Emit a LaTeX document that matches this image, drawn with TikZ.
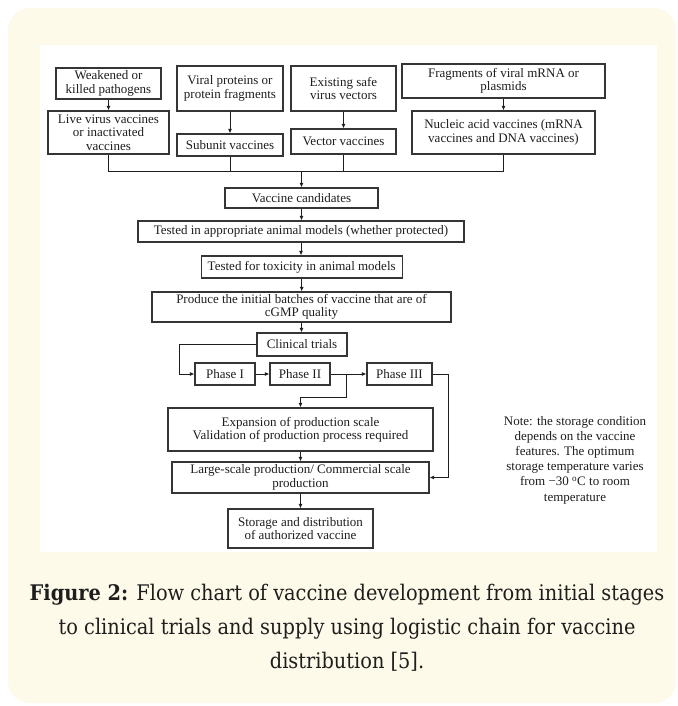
\documentclass[tikz,border=0pt]{standalone}
\usepackage{fontspec}
\setmainfont{Liberation Serif}
\newfontfamily\capfont{DejaVu Serif Condensed}
\usetikzlibrary{arrows.meta}
\definecolor{cream}{RGB}{254,250,233}
\definecolor{ink}{RGB}{30,30,30}
\tikzset{
  box/.style={draw=ink!90, line width=1.1pt, inner sep=0pt, align=center,
    font=\fontsize{13}{13.3}\selectfont, text=ink},
  conn/.style={draw=ink, line width=1pt},
  arr/.style={conn, -{Latex[length=4.5pt,width=4pt]}},
  capline/.style={inner sep=0pt, text=ink, font=\capfont\fontsize{21.5}{24}\selectfont, anchor=base},
}
\begin{document}
\begin{tikzpicture}[x=1pt,y=-1pt]
\useasboundingbox (0,0) rectangle (677,706);
\fill[white] (0,0) rectangle (677,706);
\fill[cream, rounded corners=22pt] (8,8) rectangle (676,703);
\fill[white] (40,45) rectangle (657,552);

% top row sources
\node[box, minimum width=105pt, minimum height=31pt] (wk) at (108.5,83.5) {Weakened or\\killed pathogens};
\node[box, minimum width=121pt, minimum height=43pt] (live) at (108.5,132.5) {Live virus vaccines\\or inactivated\\vaccines};
\node[box, minimum width=106pt, minimum height=45pt] (vir) at (230,88.5) {Viral proteins or\\protein fragments};
\node[box, minimum width=106pt, minimum height=22pt] (sub) at (230,145) {Subunit vaccines};
\node[box, minimum width=105pt, minimum height=45pt] (exi) at (343.5,88.5) {Existing safe\\virus vectors};
\node[box, minimum width=105pt, minimum height=25pt] (vec) at (343.5,141.5) {Vector vaccines};
\node[box, minimum width=203pt, minimum height=34pt] (frag) at (503.5,81) {Fragments of viral mRNA or\\plasmids};
\node[box, minimum width=183pt, minimum height=43pt] (nuc) at (503.5,132.5) {Nucleic acid vaccines (mRNA\\vaccines and DNA vaccines)};

% main column
\node[box, minimum width=153pt, minimum height=20pt] (cand) at (301.5,198) {Vaccine candidates};
\node[box, minimum width=326pt, minimum height=21pt] (tst) at (301,231.5) {Tested in appropriate animal models (whether protected)};
\node[box, minimum width=201pt, minimum height=22pt] (tox) at (301.7,267) {Tested for toxicity in animal models};
\node[box, minimum width=299pt, minimum height=30pt] (prod) at (301.5,307) {Produce the initial batches of vaccine that are of\\cGMP quality};
\node[box, minimum width=90pt, minimum height=23pt] (clin) at (302,344.5) {Clinical trials};
\node[box, minimum width=60pt, minimum height=22pt] (p1) at (225,374) {Phase I};
\node[box, minimum width=60pt, minimum height=22pt] (p2) at (300,374) {Phase II};
\node[box, minimum width=65pt, minimum height=22pt] (p3) at (399.5,374) {Phase III};
\node[box, minimum width=265pt, minimum height=43pt] (exp) at (300.5,429.5) {Expansion of production scale\\Validation of production process required};
\node[box, minimum width=257pt, minimum height=31pt] (lg) at (300.5,477.5) {Large-scale production/ Commercial scale\\production};
\node[box, minimum width=145pt, minimum height=39pt] (sto) at (300.5,528.5) {Storage and distribution\\of authorized vaccine};

% note
\node[align=center, inner sep=0pt, text=ink, font=\fontsize{13}{15.2}\selectfont] (note) at (575,460)
  {Note: the storage condition\\depends on the vaccine\\features. The optimum\\storage temperature varies\\from −30 \textsuperscript{o}C to room\\temperature};

% connectors top
\draw[arr] (wk.south) -- (live.north);
\draw[arr] (vir.south) -- (sub.north);
\draw[arr] (exi.south) -- (vec.north);
\draw[arr] (frag.south) -- (nuc.north);
\coordinate (busL) at (108.5,171);
\coordinate (busR) at (503.5,171);
\draw[conn] (live.south) -- (busL) -- (busR) -- (nuc.south);
\draw[conn] (sub.south) -- (sub.south |- busL);
\draw[conn] (vec.south) -- (vec.south |- busL);
\draw[arr] (cand.north |- busL) -- (cand.north);

% main column
\draw[arr] (cand.south) -- (cand.south |- tst.north);
\draw[arr] (tst.south) -- (tst.south |- tox.north);
\draw[arr] (tox.south) -- (tox.south |- prod.north);
\draw[arr] (prod.south) -- (prod.south |- clin.north);
\coordinate (c1) at (179,374);
\draw[arr] (clin.west) -| (c1) -- (p1.west);
\draw[arr] (p1.east) -- (p2.west);
\draw[arr] (p2.east) -- (p3.west);
\coordinate (br) at (346,374);
\coordinate (br2) at (346,397);
\draw[arr] (br) -- (br2) -| (exp.north);
\coordinate (c3) at (448,374);
\draw[arr] (p3.east) -- (c3) |- (lg.east);
\draw[arr] (exp.south) -- (exp.south |- lg.north);
\draw[arr] (lg.south) -- (lg.south |- sto.north);

% caption
\node[capline] (cap1) at (347,600) {\textbf{Figure 2:} Flow chart of vaccine development from initial stages};
\node[capline] (cap2) at (347,634) {to clinical trials and supply using logistic chain for vaccine};
\node[capline] (cap3) at (347,668) {distribution [5].};
\end{tikzpicture}
\end{document}
